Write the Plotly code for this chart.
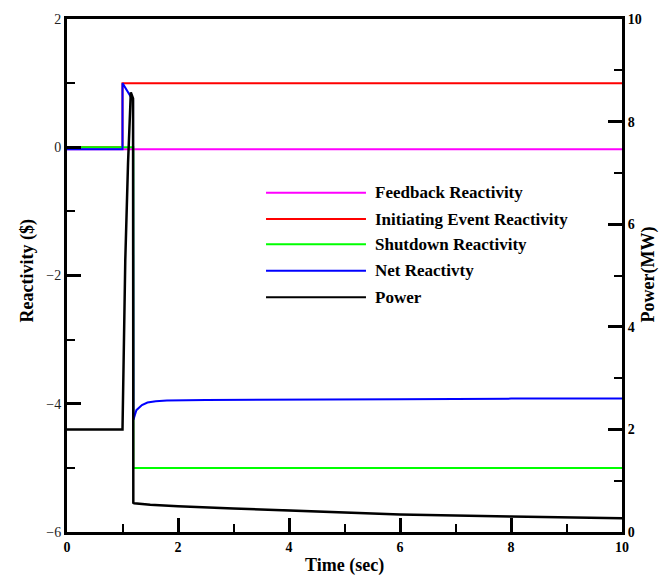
import plotly.graph_objects as go

# ---- data ----
t_feedback = [0.0, 10.0]
feedback = [-0.03, -0.03]

t_initiating = [0.0, 1.0, 1.0, 10.0]
initiating = [0.0, 0.0, 1.0, 1.0]

t_shutdown = [0.0, 1.195, 1.195, 10.0]
shutdown = [0.0, 0.0, -5.0, -5.0]

t_net = [0.0, 1.0, 1.0, 1.19, 1.197, 1.25, 1.35, 1.45, 1.6, 1.8, 2.5, 4.0, 6.0, 8.0, 10.0]
net = [-0.03, -0.03, 1.0, 0.73, -4.25, -4.1, -4.02, -3.98, -3.96, -3.95, -3.94, -3.94, -3.93, -3.92, -3.92]

t_power = [0.0, 1.0, 1.05, 1.10, 1.15, 1.19, 1.195, 1.21, 1.5, 2.0, 3.0, 4.0, 6.0, 8.0, 10.0]
power = [2.0, 2.0, 5.3, 7.2, 8.57, 8.45, 0.57, 0.56, 0.53, 0.5, 0.46, 0.42, 0.34, 0.30, 0.27]

series_names = ["Feedback Reactivity", "Initiating Event Reactivity",
                "Shutdown Reactivity", "Net Reactivty", "Power"]
series_colors = ["#FF00FF", "#FF0000", "#00FF00", "#0000FF", "#000000"]

x_ticks = [0, 2, 4, 6, 8, 10]
y_ticks = [-6, -4, -2, 0, 2]
y2_ticks = [0, 2, 4, 6, 8, 10]

FONT = "Liberation Serif"

fig = go.Figure()
xs = [t_feedback, t_initiating, t_shutdown, t_net]
ys = [feedback, initiating, shutdown, net]
for i in range(4):
    fig.add_trace(go.Scatter(x=xs[i], y=ys[i], mode="lines", name=series_names[i],
                             line=dict(color=series_colors[i], width=2), yaxis="y"))
fig.add_trace(go.Scatter(x=t_power, y=power, mode="lines", name=series_names[4],
                         line=dict(color=series_colors[4], width=2.5), yaxis="y2"))

# manual legend (long line samples, no frame)
legend_y = [0.6614, 0.6099, 0.5607, 0.5091, 0.4574]
for name, color, ly in zip(series_names, series_colors, legend_y):
    fig.add_shape(type="line", xref="paper", yref="paper", x0=0.3586, x1=0.5387,
                  y0=ly, y1=ly, line=dict(color=color, width=2))
    fig.add_annotation(xref="paper", yref="paper", x=0.5514, y=ly, text=name,
                       showarrow=False, xanchor="left", yanchor="middle",
                       font=dict(family=FONT, size=17, color="black", weight="bold"))

# axis titles
fig.add_annotation(xref="paper", yref="paper", x=0.5, y=-0.0659, text="Time (sec)",
                   showarrow=False, xanchor="center", yanchor="middle",
                   font=dict(family=FONT, size=18, color="black", weight="bold"))
fig.add_annotation(xref="paper", yref="paper", x=-0.072, y=0.5078, text="Reactivity ($)",
                   showarrow=False, xanchor="center", yanchor="middle", textangle=-90,
                   font=dict(family=FONT, size=18, color="black", weight="bold"))
fig.add_annotation(xref="paper", yref="paper", x=1.047, y=0.502, text="Power(MW)",
                   showarrow=False, xanchor="center", yanchor="middle", textangle=-90,
                   font=dict(family=FONT, size=18, color="black", weight="bold"))

axis_common = dict(showgrid=False, zeroline=False, showline=True, linecolor="black",
                   linewidth=3, ticks="inside", ticklen=14, tickwidth=3, tickcolor="black")

fig.update_layout(
    width=670, height=577,
    margin=dict(l=67, r=48, t=16, b=45),
    paper_bgcolor="white", plot_bgcolor="white",
    showlegend=False,
    font=dict(family=FONT, color="black"),
    xaxis=dict(range=[0, 10], tickvals=x_ticks, mirror=True,
               tickfont=dict(family=FONT, size=14, color="black", weight="bold"),
               minor=dict(ticks="inside", dtick=1, ticklen=8, tickwidth=2, tickcolor="black"),
               **axis_common),
    yaxis=dict(range=[-6, 2], tickvals=y_ticks,
               tickfont=dict(family=FONT, size=14, color="#222222"),
               minor=dict(ticks="inside", dtick=1, ticklen=8, tickwidth=2, tickcolor="black"),
               **axis_common),
    yaxis2=dict(range=[0, 10], tickvals=y2_ticks, overlaying="y", side="right",
                tickfont=dict(family=FONT, size=14, color="black", weight="bold"),
                minor=dict(ticks="inside", dtick=1, ticklen=8, tickwidth=2, tickcolor="black"),
                **axis_common),
)

fig.write_html("out.html")
